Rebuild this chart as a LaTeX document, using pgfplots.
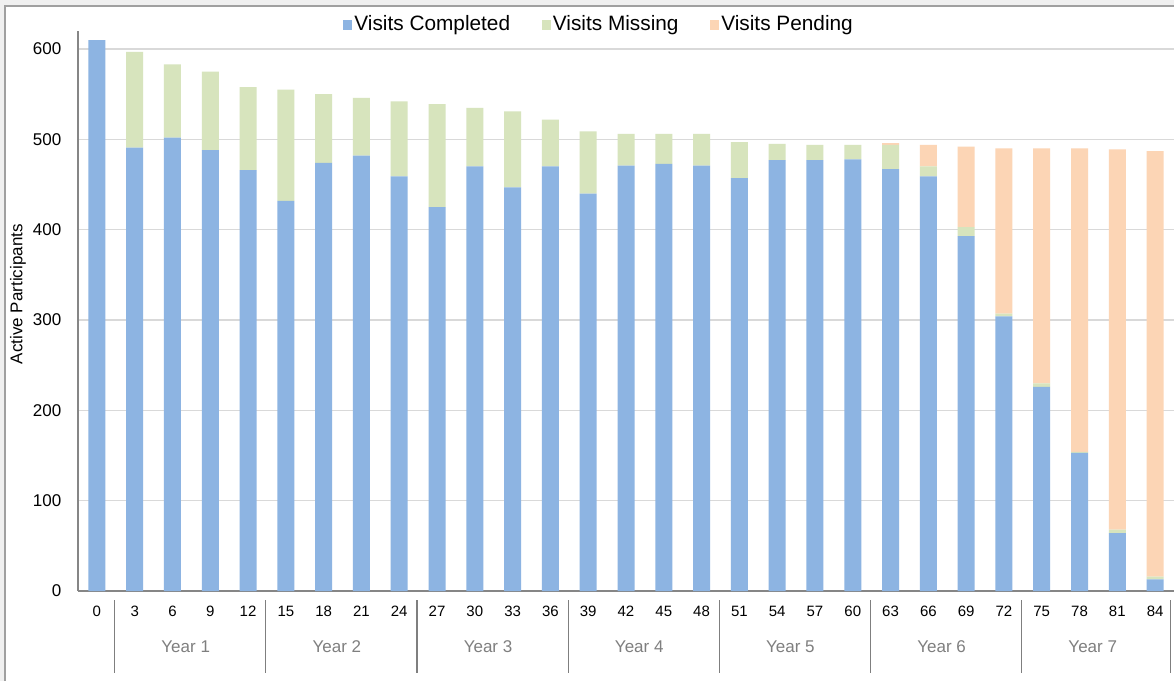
\documentclass[border=0pt]{standalone}
\usepackage{fontspec}
\setmainfont{Liberation Sans}
\usepackage{pgfplots}
\usepackage{pgfplotstable}
\pgfplotsset{compat=1.18}
\definecolor{cblue}{HTML}{8DB4E2}
\definecolor{cgreen}{HTML}{D7E4BD}
\definecolor{corange}{HTML}{FCD5B5}
\definecolor{gridc}{HTML}{D9D9D9}
\definecolor{axisc}{HTML}{868686}
\definecolor{framec}{HTML}{A0A0A0}
\definecolor{bandc}{HTML}{F0F0F0}
\definecolor{yearc}{HTML}{7F7F7F}

\pgfplotstableread{
idx comp miss pend
0  610 0   0
1  491 106 0
2  502 81  0
3  488 87  0
4  466 92  0
5  432 123 0
6  474 76  0
7  482 64  0
8  459 83  0
9  425 114 0
10 470 65  0
11 447 84  0
12 470 52  0
13 440 69  0
14 471 35  0
15 473 33  0
16 471 35  0
17 457 40  0
18 477 18  0
19 477 17  0
20 478 16  0
21 467 27  2
22 459 11  24
23 393 10  89
24 304 3   183
25 226 4   260
26 153 1   336
27 64  4   421
28 13  3   471
}\datatable

\begin{document}
\begin{tikzpicture}
\useasboundingbox (0,0) rectangle (587pt,340.5pt);
\fill[bandc] (0,0) rectangle (587pt,340.5pt);
\fill[white] (2.5pt,0) rectangle (587pt,337.5pt);
\draw[framec, line width=0.6pt] (2.5pt,0) -- (2.5pt,337.5pt) -- (587pt,337.5pt);
\begin{axis}[
  at={(39pt,45pt)}, anchor=south west,
  scale only axis, width=548pt, height=280pt,
  ybar stacked, bar width=8.5pt,
  xmin=-0.5, xmax=28.5, ymin=0, ymax=620,
  xtick={0,...,28},
  xticklabels={0,3,6,9,12,15,18,21,24,27,30,33,36,39,42,45,48,51,54,57,60,63,66,69,72,75,78,81,84},
  ytick={0,100,...,600},
  ymajorgrids, grid style={gridc, line width=0.6pt},
  major tick length=0pt,
  axis x line*=bottom, axis y line*=left,
  axis line style={axisc, line width=0.6pt, -},
  /pgf/number format/assume math mode=true,
  xticklabel style={font=\fontsize{7.5}{9}\selectfont, yshift=-4pt, text=black},
  yticklabel style={font=\fontsize{8.5}{10}\selectfont, xshift=-4.8pt, text=black},
  ylabel={Active Participants},
  ylabel style={at={(axis description cs:-0.0547,0.53)}, anchor=center, font=\fontsize{8.5}{10}\selectfont},
  legend columns=3,
  legend image code/.code={\fill[#1, draw=none] (0pt,-2.5pt) rectangle (4.5pt,2.5pt);},
  legend style={at={(0.4755,1.011)}, anchor=center, draw=none, fill=none,
    font=\fontsize{10.4}{12}\selectfont, inner sep=0pt,
    nodes={inner sep=1.2pt},
    /tikz/every even column/.append style={column sep=14.5pt}},
  clip=false,
]
\addplot[fill=cblue, draw=none] table[x=idx, y=comp]{\datatable};
\addplot[fill=cgreen, draw=none] table[x=idx, y=miss]{\datatable};
\addplot[fill=corange, draw=none] table[x=idx, y=pend]{\datatable};
\legend{Visits Completed, Visits Missing, Visits Pending}
\pgfplotsinvokeforeach{0.47,4.47,8.47,12.47,16.47,20.47,24.47,28.4}{
  \draw[yearc, line width=0.6pt] ([yshift=-4.5pt]axis cs:#1,0) -- ([yshift=-41pt]axis cs:#1,0);
}
\node[text=yearc, font=\fontsize{8.5}{10}\selectfont] at (axis cs:2.35,0) [yshift=-28pt] {Year 1};
\node[text=yearc, font=\fontsize{8.5}{10}\selectfont] at (axis cs:6.35,0) [yshift=-28pt] {Year 2};
\node[text=yearc, font=\fontsize{8.5}{10}\selectfont] at (axis cs:10.35,0) [yshift=-28pt] {Year 3};
\node[text=yearc, font=\fontsize{8.5}{10}\selectfont] at (axis cs:14.35,0) [yshift=-28pt] {Year 4};
\node[text=yearc, font=\fontsize{8.5}{10}\selectfont] at (axis cs:18.35,0) [yshift=-28pt] {Year 5};
\node[text=yearc, font=\fontsize{8.5}{10}\selectfont] at (axis cs:22.35,0) [yshift=-28pt] {Year 6};
\node[text=yearc, font=\fontsize{8.5}{10}\selectfont] at (axis cs:26.35,0) [yshift=-28pt] {Year 7};
\end{axis}
\end{tikzpicture}
\end{document}
